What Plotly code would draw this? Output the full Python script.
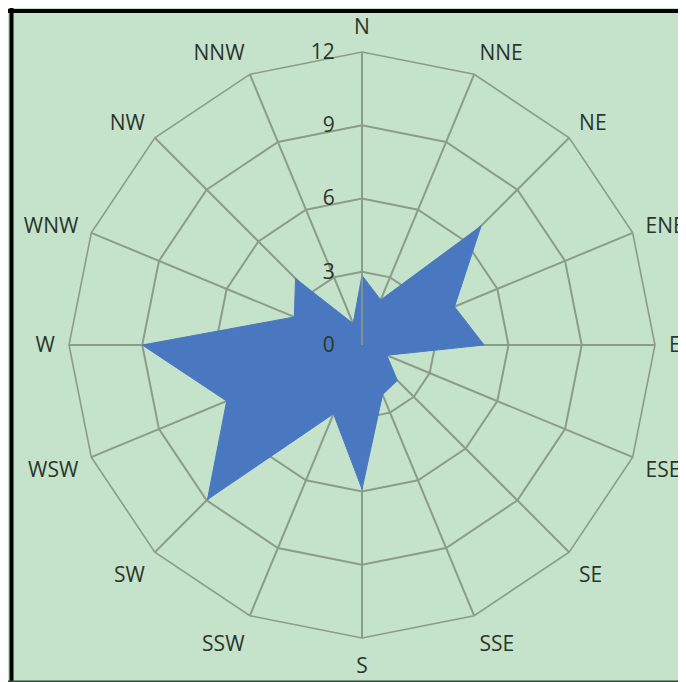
import plotly.graph_objects as go

directions = ["N", "NNE", "NE", "ENE", "E", "ESE", "SE", "SSE",
              "S", "SSW", "SW", "WSW", "W", "WNW", "NW", "NNW"]
frequency = [2.85, 2.0, 6.9, 4.1, 5.0, 1.1, 2.05, 2.2,
             5.9, 3.05, 8.95, 6.0, 9.0, 3.0, 3.85, 0.95]
radial_ticks = [0, 3, 6, 9, 12]

W, H = 686, 682
# positions in paper pixels (page is offset by the 8px body margin)
cx, cy, R = 354, 337, 293

fig = go.Figure()
fig.add_trace(go.Scatterpolar(
    r=frequency + [frequency[0]],
    theta=directions + [directions[0]],
    mode="lines",
    fill="toself",
    fillcolor="#4a78c0",
    line=dict(color="#4a78c0", width=1),
    hoverinfo="skip",
    showlegend=False,
))

grid = "#8a9c8a"
txt = "#2b362b"
font_fam = "'Open Sans', sans-serif"
fig.update_layout(
    width=W, height=H,
    margin=dict(l=0, r=0, t=0, b=0),
    paper_bgcolor="#c5e3cb",
    showlegend=False,
    shapes=[
        dict(type="line", xref="paper", yref="paper", layer="below",
             x0=3.5 / W, x1=3.5 / W, y0=0, y1=1,
             line=dict(color="black", width=4)),
        dict(type="line", xref="paper", yref="paper", layer="below",
             x0=0, x1=1, y0=1 - 3 / H, y1=1 - 3 / H,
             line=dict(color="black", width=4)),
        dict(type="line", xref="paper", yref="paper", layer="below",
             x0=0, x1=1, y0=8.5 / H, y1=8.5 / H,
             line=dict(color="#2f4a3a", width=2)),
    ],
    polar=dict(
        domain=dict(x=[(cx - R) / W, (cx + R) / W],
                    y=[(H - cy - R) / H, (H - cy + R) / H]),
        bgcolor="rgba(0,0,0,0)",
        gridshape="linear",
        angularaxis=dict(
            direction="clockwise",
            rotation=90,
            categoryorder="array",
            categoryarray=directions,
            showline=True,
            linecolor=grid,
            linewidth=1.6,
            gridcolor=grid,
            gridwidth=1.6,
            ticks="outside",
            ticklen=9,
            tickcolor="rgba(0,0,0,0)",
            tickfont=dict(family=font_fam, size=21, color=txt),
        ),
        radialaxis=dict(
            range=[0, 12],
            tickvals=radial_ticks,
            ticktext=[str(v) for v in radial_ticks],
            angle=90,
            tickangle=90,
            side="counterclockwise",
            showline=True,
            linecolor=grid,
            linewidth=1.6,
            gridcolor=grid,
            gridwidth=1.6,
            ticks="outside",
            ticklen=19,
            tickcolor="rgba(0,0,0,0)",
            tickfont=dict(family=font_fam, size=21, color=txt),
            layer="above traces",
        ),
    ),
)

fig.write_html("out.html",
               post_script="document.documentElement.style.overflow='hidden';"
                           "document.body.style.overflow='hidden';")
